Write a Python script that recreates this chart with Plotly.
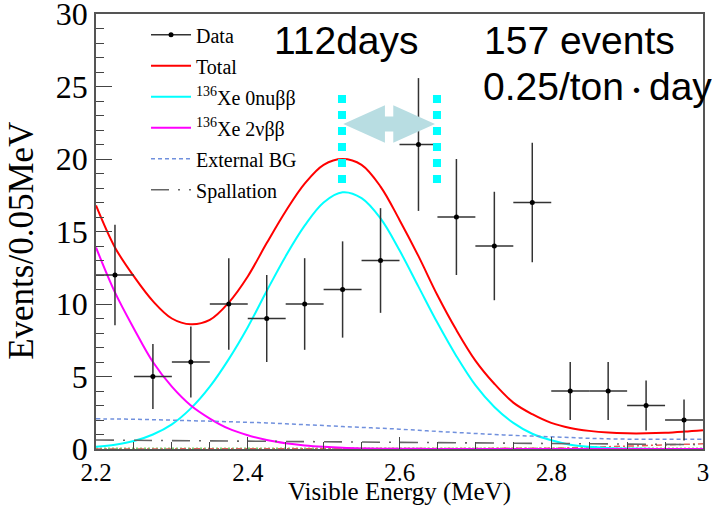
import plotly.graph_objects as go

# ---- data ----
bin_centers = [2.225, 2.275, 2.325, 2.375, 2.425, 2.475, 2.525, 2.575,
               2.625, 2.675, 2.725, 2.775, 2.825, 2.875, 2.925, 2.975]
counts = [12, 5, 6, 10, 9, 10, 11, 13, 21, 16, 14, 17, 4, 4, 3, 2]
count_err = [3.46, 2.24, 2.45, 3.16, 3.0, 3.16, 3.32, 3.61,
             4.58, 4.0, 3.74, 4.12, 2.0, 2.0, 1.73, 1.41]
bin_half_width = 0.025

curve_energy = [2.200, 2.225, 2.250, 2.275, 2.300, 2.325, 2.350, 2.375, 2.400,
                2.425, 2.450, 2.475, 2.500, 2.525, 2.550, 2.575, 2.600, 2.625,
                2.650, 2.675, 2.700, 2.725, 2.750, 2.775, 2.800, 2.825, 2.850,
                2.875, 2.900, 2.925, 2.950, 2.975, 3.000]
total = [16.8, 13.9, 11.9, 10.2, 9.0, 8.6, 8.9, 10.1, 11.9,
         14.2, 16.4, 18.3, 19.6, 20.0, 19.6, 18.1, 15.8, 13.3,
         10.6, 8.2, 6.1, 4.5, 3.2, 2.4, 1.8, 1.45, 1.25,
         1.13, 1.08, 1.08, 1.12, 1.2, 1.3]
xe_0nu = [0.15, 0.3, 0.55, 1.0, 1.7, 2.8, 4.3, 6.2, 8.4,
          10.9, 13.3, 15.4, 17.0, 17.7, 17.3, 15.9, 13.7, 11.2,
          8.7, 6.4, 4.4, 2.9, 1.8, 1.05, 0.6, 0.3, 0.15,
          0.07, 0.03, 0.01, 0.0, 0.0, 0.0]
xe_2nu = [13.9, 10.8, 8.3, 6.0, 4.3, 3.0, 2.1, 1.4, 0.95,
          0.62, 0.4, 0.25, 0.15, 0.08, 0.04, 0.02, 0.01, 0.01,
          0.0, 0.0, 0.0, 0.0, 0.0, 0.0, 0.0, 0.0, 0.0,
          0.0, 0.0, 0.0, 0.0, 0.0, 0.0]
external_bg = [2.08, 2.07, 2.05, 2.02, 1.99, 1.95, 1.92, 1.88, 1.84,
               1.80, 1.74, 1.68, 1.62, 1.55, 1.49, 1.43, 1.37, 1.29,
               1.21, 1.14, 1.07, 1.00, 0.94, 0.89, 0.84, 0.79, 0.74,
               0.70, 0.68, 0.67, 0.67, 0.67, 0.67]
spallation = [0.62, 0.61, 0.60, 0.59, 0.58, 0.57, 0.56, 0.55, 0.54,
              0.53, 0.52, 0.51, 0.50, 0.50, 0.49, 0.49, 0.48, 0.47,
              0.46, 0.45, 0.44, 0.43, 0.42, 0.41, 0.40, 0.39, 0.38,
              0.36, 0.34, 0.33, 0.32, 0.31, 0.30]
minor_bg_a = [0.06] * 33
minor_bg_b = [0.0, 0.0, 0.0, 0.0, 0.0, 0.0, 0.0, 0.0, 0.0,
              0.0, 0.0, 0.0, 0.0, 0.0, 0.0, 0.0, 0.0, 0.0,
              0.0, 0.0, 0.0, 0.0, 0.0, 0.02, 0.05, 0.08, 0.12,
              0.16, 0.2, 0.24, 0.28, 0.32, 0.36]

x_tick_vals = [2.2, 2.4, 2.6, 2.8, 3.0]
x_tick_text = ["2.2", "2.4", "2.6", "2.8", "3"]
y_tick_vals = [0, 5, 10, 15, 20, 25, 30]

SERIF = "Liberation Serif, Times New Roman, serif"
SANS = "Liberation Sans, Arial, Noto Sans CJK JP, sans-serif"

fig = go.Figure()

# minor backgrounds (no legend)
fig.add_trace(go.Scatter(x=curve_energy, y=minor_bg_a, mode="lines",
                         line=dict(color="#7ccf6a", width=1.5, dash="2px,2px"),
                         showlegend=False, hoverinfo="skip"))
fig.add_trace(go.Scatter(x=curve_energy, y=minor_bg_b, mode="lines",
                         line=dict(color="#e0605a", width=1.5, dash="6px,3px,2px,3px"),
                         showlegend=False, hoverinfo="skip"))

# legend-only entry for Data (line + dot)
fig.add_trace(go.Scatter(x=[None], y=[None], mode="lines+markers", name="Data",
                         line=dict(color="#333333", width=1.5),
                         marker=dict(color="black", size=5),
                         legendgroup="g1"))
fig.add_trace(go.Scatter(x=curve_energy, y=total, mode="lines", name="Total",
                         line=dict(color="#ff0000", width=2, shape="spline"),
                         legendgroup="g2"))
fig.add_trace(go.Scatter(x=curve_energy, y=xe_0nu, mode="lines",
                         name="<sup>136</sup>Xe 0nuββ",
                         line=dict(color="#00ffff", width=2, shape="spline"),
                         legendgroup="g3"))
fig.add_trace(go.Scatter(x=curve_energy, y=xe_2nu, mode="lines",
                         name="<sup>136</sup>Xe 2νββ",
                         line=dict(color="#ff00ff", width=2, shape="spline"),
                         legendgroup="g4"))
fig.add_trace(go.Scatter(x=curve_energy, y=external_bg, mode="lines",
                         name="External BG",
                         line=dict(color="#7090dd", width=1.5, dash="4px,3px",
                                   shape="spline"),
                         legendgroup="g5"))
fig.add_trace(go.Scatter(x=curve_energy, y=spallation, mode="lines",
                         name="Spallation",
                         line=dict(color="#666666", width=1.6,
                                   dash="18px,9px,2px,9px"),
                         legendgroup="g6"))

# data points
fig.add_trace(go.Scatter(
    x=bin_centers, y=counts, mode="markers", showlegend=False,
    marker=dict(color="black", size=5),
    error_x=dict(type="constant", value=bin_half_width, width=0,
                 thickness=1.5, color="#333333"),
    error_y=dict(type="data", array=count_err, width=0,
                 thickness=1.5, color="#333333"),
))

# cyan dotted window markers
for xe in (2.5242, 2.6494):
    fig.add_shape(type="line", xref="x", yref="y", x0=xe, x1=xe, y0=24.41, y1=18.34,
                  line=dict(color="#00ffff", width=8, dash="8px,8px"))

# double-headed arrow
yc, hh, sh = 22.41, 1.29, 0.52
xl, xb1, xb2, xr = 2.5259, 2.5808, 2.5918, 2.6468
path = (f"M {xl},{yc} L {xb1},{yc+hh} L {xb1},{yc+sh} L {xb2},{yc+sh} "
        f"L {xb2},{yc+hh} L {xr},{yc} L {xb2},{yc-hh} L {xb2},{yc-sh} "
        f"L {xb1},{yc-sh} L {xb1},{yc-hh} Z")
fig.add_shape(type="path", xref="x", yref="y", path=path,
              fillcolor="#b8dde2", line=dict(width=0))

ann_font = dict(family=SANS, size=39, color="black")
fig.add_annotation(text="112days", xref="paper", yref="paper", x=0.290, y=0.939,
                   xanchor="left", yanchor="middle", showarrow=False, font=ann_font)
fig.add_annotation(text="157 events", xref="paper", yref="paper", x=0.636, y=0.939,
                   xanchor="left", yanchor="middle", showarrow=False, font=ann_font)
fig.add_annotation(text='0.25/ton<span style="font-size:25px">・</span>day',
                   xref="paper", yref="paper", x=0.634, y=0.833,
                   xanchor="left", yanchor="middle", showarrow=False, font=ann_font)

# axis titles as annotations
fig.add_annotation(text="Events/0.05MeV", xref="paper", yref="paper",
                   x=-0.124, y=0.478, xanchor="center", yanchor="middle",
                   textangle=-90, showarrow=False,
                   font=dict(family=SERIF, size=35, color="black"))
fig.add_annotation(text="Visible Energy (MeV)", xref="paper", yref="paper",
                   x=0.5, y=-0.099, xanchor="center", yanchor="middle",
                   showarrow=False,
                   font=dict(family=SERIF, size=25, color="black"))

fig.update_layout(
    width=712, height=507,
    margin=dict(l=96, r=9, t=14, b=58),
    paper_bgcolor="white", plot_bgcolor="white",
    font=dict(family=SERIF, size=24, color="black"),
    showlegend=True,
    legend=dict(x=0.0824, y=0.997, xanchor="left", yanchor="top",
                bgcolor="rgba(0,0,0,0)", borderwidth=0,
                font=dict(family=SERIF, size=20, color="black"),
                tracegroupgap=2, itemwidth=40, traceorder="grouped"),
    xaxis=dict(range=[2.2, 3.0], tickvals=x_tick_vals, ticktext=x_tick_text,
               automargin=False, ticklabeloverflow="allow",
               tickfont=dict(family=SERIF, size=25),
               ticks="inside", ticklen=12, tickcolor="#444", showgrid=False,
               zeroline=False, showline=True, linecolor="#555", linewidth=1.5,
               mirror=True,
               minor=dict(dtick=0.05, ticks="inside", ticklen=7, tickcolor="#444",
                          showgrid=False)),
    yaxis=dict(range=[0, 30], tickvals=y_tick_vals, ticks="inside", ticklen=16,
               automargin=False, ticklabeloverflow="allow",
               tickfont=dict(family=SERIF, size=32),
               tickcolor="#444", showgrid=False, zeroline=False, showline=True,
               linecolor="#555", linewidth=1.5, mirror=True,
               minor=dict(dtick=1, ticks="inside", ticklen=8, tickcolor="#444",
                          showgrid=False)),
)

fig.write_html("out.html", config={"displayModeBar": False},
               post_script="document.body.style.margin='0';")
